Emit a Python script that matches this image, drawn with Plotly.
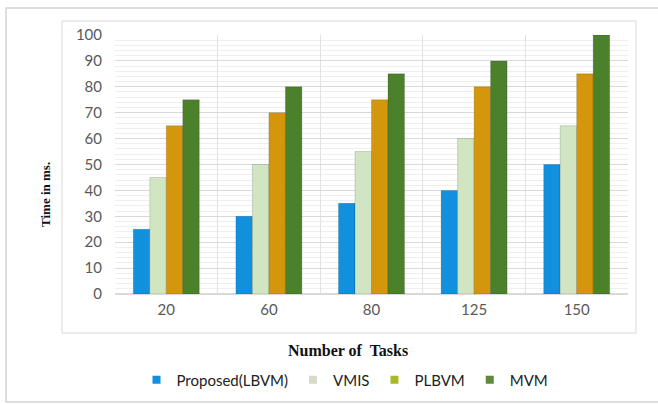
import plotly.graph_objects as go

categories = ["20", "60", "80", "125", "150"]
series_names = ["Proposed(LBVM)", "VMIS", "PLBVM", "MVM"]
proposed = [25, 30, 35, 40, 50]
vmis = [45, 50, 55, 60, 65]
plbvm = [65, 70, 75, 80, 85]
mvm = [75, 80, 85, 90, 100]
y_ticks = list(range(0, 101, 10))

bar_colors = ["#1190dd", "#d2e5c3", "#d4970c", "#4b812b"]
legend_colors = ["#1190dd", "#d6dac8", "#a9b922", "#5e8a3c"]
values = [proposed, vmis, plbvm, mvm]

fig = go.Figure()
for name, vals, col in zip(series_names, values, bar_colors):
    fig.add_trace(go.Bar(x=categories, y=vals, name=name,
                         marker=dict(color=col, line=dict(width=0.6, color="rgba(0,0,0,0.25)")),
                         showlegend=False))
for name, col in zip(series_names, legend_colors):
    fig.add_trace(go.Scatter(x=[None], y=[None], mode="markers", name=name,
                             marker=dict(symbol="square", size=8, color=col)))

W, H = 658, 404
px0, px1, py0, py1 = 115, 628, 294, 35
def px(x):
    return (x - px0) / (px1 - px0)
def py(y):
    return (py0 - y) / (py0 - py1)

shapes = [
    dict(type="rect", xref="paper", yref="paper", x0=px(6), x1=px(662), y0=py(402), y1=py(8),
         line=dict(color="#d4d4d4", width=1.5), layer="below"),
    dict(type="rect", xref="paper", yref="paper", x0=px(62), x1=px(636), y0=py(333), y1=py(21),
         line=dict(color="#d8d8d8", width=1), layer="below"),
]

fig.update_layout(
    width=W, height=H,
    margin=dict(l=px0, r=W - px1, t=py1, b=H - py0, autoexpand=False),
    paper_bgcolor="white", plot_bgcolor="white",
    barmode="group", bargap=0.357, bargroupgap=0,
    font=dict(family="Lato", size=15, color="#595959"),
    shapes=shapes,
    showlegend=True,
    legend=dict(orientation="h", x=345 / W, xref="container", xanchor="center",
                y=1 - 380 / H, yref="container", yanchor="middle",
                font=dict(family="Lato", size=15, color="#222222"),
                bgcolor="rgba(0,0,0,0)"),
    annotations=[
        dict(text="<b>Time in ms.</b>", xref="paper", yref="paper", x=px(45), y=py(195),
             xanchor="center", yanchor="middle",
             textangle=-90, showarrow=False, font=dict(family="Liberation Serif", size=13, color="#111111")),
        dict(text="<b>Number of  Tasks</b>", xref="paper", yref="paper", x=px(348), y=py(350),
             xanchor="center", yanchor="middle",
             showarrow=False, font=dict(family="Liberation Serif", size=16, color="#111111")),
    ],
)
fig.update_xaxes(type="category", tickson="boundaries", showgrid=True, gridcolor="#e2e2e2",
                 ticks="", showline=False, zeroline=False, automargin=False,
                 ticklabelstandoff=5, tickfont=dict(size=15, color="#595959"))
fig.update_yaxes(range=[0, 100], tickvals=y_ticks, showgrid=True, gridcolor="#d9d9d9", gridwidth=1,
                 minor=dict(dtick=2, showgrid=True, gridcolor="#efefef", gridwidth=1),
                 zeroline=True, zerolinecolor="#d9d9d9", ticks="", showline=False, automargin=False,
                 ticklabelstandoff=12, tickfont=dict(size=15, color="#595959"))

fig.write_html("out.html", config={"displayModeBar": False},
               post_script="document.body.style.margin='0';")
